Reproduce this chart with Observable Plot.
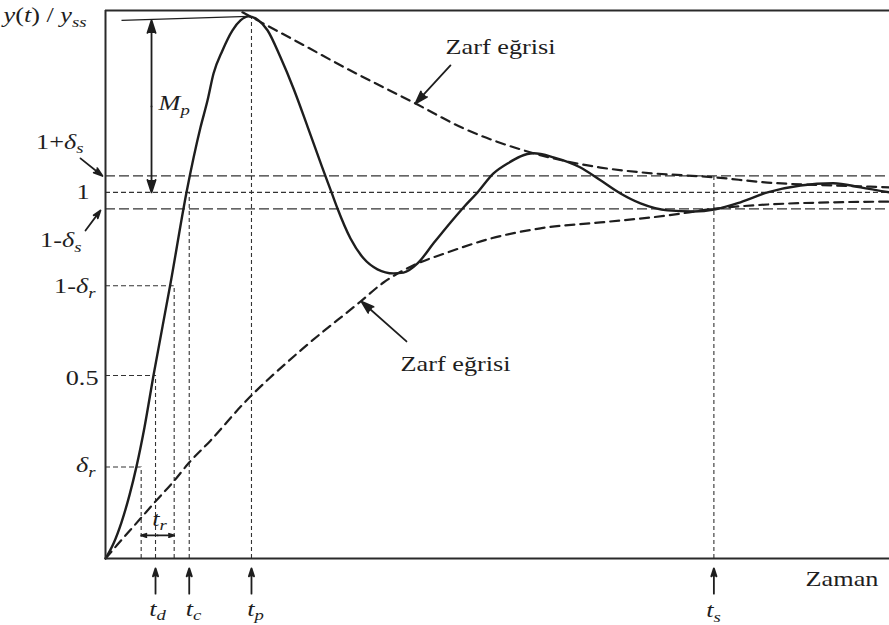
<!DOCTYPE html>
<html>
<head>
<meta charset="utf-8">
<script src="https://cdn.jsdelivr.net/npm/d3@7"></script>
<script src="https://cdn.jsdelivr.net/npm/@observablehq/plot@0.6"></script>
<style>
  body { margin: 0; background: #fff; }
  #chart svg { display: block; }
</style>
</head>
<body>
<div id="chart"></div>
<script>
// Normalised step response y(t)/y_ss of an underdamped second-order system
const respT = [0, 0.102, 0.204, 0.306, 0.395, 0.497, 0.612, 0.829, 1.033, 1.212, 1.301, 1.378,
  1.492, 1.620, 1.722, 1.824, 1.952, 2.066, 2.232, 2.398, 2.577, 2.755, 2.883, 2.959, 3.125, 3.291,
  3.469, 3.673, 3.801, 3.980, 4.184, 4.401, 4.566, 4.745, 4.949, 5.128, 5.459, 5.714, 6.059, 6.314,
  6.569, 6.824, 7.168, 7.500, 7.781, 8.099, 8.444, 8.865, 9.286, 9.630, 10.0];
const respY = [0, 0.041, 0.099, 0.173, 0.251, 0.358, 0.500, 0.751, 1.000, 1.178, 1.251, 1.325,
  1.388, 1.443, 1.470, 1.481, 1.470, 1.443, 1.369, 1.284, 1.180, 1.074, 1.000, 0.956, 0.874, 0.820,
  0.790, 0.779, 0.781, 0.806, 0.861, 0.918, 0.959, 1.000, 1.052, 1.079, 1.107, 1.096, 1.068, 1.033,
  0.997, 0.970, 0.951, 0.948, 0.954, 0.973, 1.000, 1.019, 1.025, 1.014, 1.000];

// Upper and lower envelope curves ("Zarf eğrisi")
const upperT = [1.747, 2.487, 3.125, 3.546, 3.980, 4.566, 5.332, 6.314, 6.824, 7.781, 8.444, 9.286, 10.0];
const upperY = [1.492, 1.407, 1.333, 1.287, 1.240, 1.175, 1.115, 1.068, 1.055, 1.041, 1.027, 1.019, 1.014];
const lowerT = [0, 0.153, 0.446, 0.638, 0.867, 1.059, 1.339, 1.760, 2.487, 3.253, 3.546, 3.929, 4.362,
  4.911, 5.548, 6.314, 7.168, 7.781, 8.444, 9.286, 10.0];
const lowerY = [0, 0.038, 0.109, 0.156, 0.210, 0.260, 0.322, 0.423, 0.568, 0.702, 0.754, 0.801, 0.836,
  0.874, 0.902, 0.918, 0.937, 0.956, 0.967, 0.973, 0.975];

// Reference levels
const bandLevels = [1.045, 0.955];          // 1+δs, 1-δs
const finalLevel = [1];
const riseLevels = [0.25, 0.5, 0.745];      // δr, 0.5, 1-δr
const riseTimes = [0.455, 0.638, 0.876];    // crossings of the rise levels

// Characteristic times
const markerNames = ["t_d", "t_c", "t_p", "t_s"];
const markerTimes = [0.638, 1.068, 1.862, 7.76];
const markerTops = [0.5, 1.0, 1.478, 1.045];
const peakValue = 1.481;

// Level labels on the vertical axis
const levelNames = ["1+δ_s", "1", "1-δ_s", "1-δ_r", "0.5", "δ_r"];

const response = respT.map((t, i) => ({t, y: respY[i]}));
const upper = upperT.map((t, i) => ({t, y: upperY[i]}));
const lower = lowerT.map((t, i) => ({t, y: lowerY[i]}));
const rise = riseLevels.map((y, i) => ({y, t: riseTimes[i]}));
const markers = markerNames.map((name, i) => ({name, t: markerTimes[i], top: markerTops[i]}));

const yTop = 1.497;
const ink = "#1e1e1e";
const serif = "Liberation Serif, Times New Roman, serif";

// Label placement (time units / normalised output units)
const levelLayout = [
  {x: -0.281, y: 1.120}, {x: -0.204, y: 0.981}, {x: -0.306, y: 0.851},
  {x: -0.128, y: 0.724}, {x: -0.089, y: 0.473}, {x: -0.128, y: 0.235}
];
const levelText = levelNames.map((text, i) => ({text, ...levelLayout[i]}));
const markerOffsets = [0.025, 0.054, 0.051, -0.005];
const markerText = markers.map((m, i) => ({text: m.name, x: m.t + markerOffsets[i], y: m.name === "t_s" ? -0.161 : -0.156}));
const mathStart = [{text: "y(t) / y_ss", x: -1.301, y: 1.4645}, {text: "M_p", x: 0.676, y: 1.224}];
const mathMiddle = [...markerText, {text: "t_r", x: 0.689, y: 0.090}];
const captions = [
  {text: "Zarf eğrisi", x: 4.337, y: 1.377},
  {text: "Zarf eğrisi", x: 3.763, y: 0.511},
  {text: "Zaman", x: 8.929, y: -0.074}
];

// Arrows
const mpX = 0.587, mpMid = (finalLevel[0] + 1.470) / 2;
const trY = 0.063, trMid = (riseTimes[0] + riseTimes[2]) / 2;
const pointers = [
  {x1: mpX, y1: mpMid, x2: mpX, y2: 1.470},
  {x1: mpX, y1: mpMid, x2: mpX, y2: finalLevel[0]},
  {x1: trMid, y1: trY, x2: riseTimes[0], y2: trY},
  {x1: trMid, y1: trY, x2: riseTimes[2], y2: trY},
  {x1: -0.319, y1: 1.093, x2: -0.038, y2: bandLevels[0]},
  {x1: -0.255, y1: 0.896, x2: -0.064, y2: bandLevels[1] - 0.004},
  {x1: 4.40, y1: 1.347, x2: 3.954, y2: 1.243},
  {x1: 3.839, y1: 0.593, x2: 3.265, y2: 0.702},
  ...markers.map(m => ({x1: m.t, y1: -0.096, x2: m.t, y2: -0.027}))
];

const textCommon = {text: "text", x: "x", y: "y", lineAnchor: "bottom", fill: ink, fontSize: 21, fontFamily: serif};

const chart = Plot.plot({
  width: 889,
  height: 625,
  marginLeft: 105,
  marginRight: 0,
  marginTop: 10,
  marginBottom: 67,
  x: {domain: [0, 10], axis: null},
  y: {domain: [0, yTop], axis: null},
  style: {background: "#fff", fontFamily: serif, fontSize: "21px", overflow: "visible"},
  marks: [
    // settling band and final value
    Plot.ruleY(bandLevels, {stroke: "#333", strokeWidth: 1.2, strokeDasharray: "10,4"}),
    Plot.ruleY(finalLevel, {stroke: "#333", strokeWidth: 1.2, strokeDasharray: "5,3"}),
    // rise levels and their crossing times
    Plot.ruleY(rise, {y: "y", x1: 0, x2: "t", stroke: "#333", strokeWidth: 1.1, strokeDasharray: "5,3"}),
    Plot.ruleX(rise, {x: "t", y1: 0, y2: "y", stroke: "#333", strokeWidth: 1.1, strokeDasharray: "4,3"}),
    Plot.ruleX(markers.slice(1), {x: "t", y1: 0, y2: "top", stroke: "#333", strokeWidth: 1.1, strokeDasharray: "4,3"}),
    // envelopes
    Plot.line(upper, {x: "t", y: "y", curve: "monotone-x", stroke: ink, strokeWidth: 2.2, strokeDasharray: "9,6"}),
    Plot.line(lower, {x: "t", y: "y", curve: "monotone-x", stroke: ink, strokeWidth: 2.2, strokeDasharray: "9,6"}),
    // response
    Plot.line(response, {x: "t", y: "y", curve: "monotone-x", stroke: ink, strokeWidth: 2.4}),
    // overshoot reference line
    Plot.link([{x1: 0.204, y1: 1.470, x2: 1.824, y2: peakValue}], {x1: "x1", y1: "y1", x2: "x2", y2: "y2", stroke: ink, strokeWidth: 1.2}),
    // frame: left, top and time axis
    Plot.ruleX([0], {stroke: "#2a2a2a", strokeWidth: 2}),
    Plot.ruleY([0, yTop], {stroke: "#2a2a2a", strokeWidth: 2}),
    // arrows with solid heads
    Plot.arrow(pointers, {x1: "x1", y1: "y1", x2: "x2", y2: "y2", stroke: ink, fill: ink, strokeWidth: 1.8, headLength: 11, headAngle: 36}),
    // labels
    Plot.text(mathStart, {...textCommon, textAnchor: "start"}),
    Plot.text(levelText, {...textCommon, textAnchor: "end"}),
    Plot.text(mathMiddle, {...textCommon, textAnchor: "middle"}),
    Plot.text(captions, {...textCommon, textAnchor: "start"})
  ]
});

// Typeset math labels: italic symbols and lowered subscripts
const NS = "http://www.w3.org/2000/svg";
const SUB_SHIFT = 4.6, SUB_SIZE = "15px", STRETCH = 1.25;
const plainText = new Set(captions.map(d => d.text));
function typeset(el) {
  const s = el.textContent;
  const runs = [];
  for (let i = 0; i < s.length; i++) {
    const ch = s[i];
    if (ch === "_") {
      let j = i + 1, sub = "";
      while (j < s.length && /[A-Za-z]/.test(s[j])) sub += s[j++];
      runs.push({text: sub, italic: true, sub: true});
      i = j - 1;
      continue;
    }
    const italic = /[A-Za-zδ]/.test(ch);
    const last = runs[runs.length - 1];
    if (last && !last.sub && last.italic === italic) last.text += ch;
    else runs.push({text: ch, italic, sub: false});
  }
  el.textContent = "";
  let lowered = false;
  for (const r of runs) {
    const ts = document.createElementNS(NS, "tspan");
    ts.textContent = r.text;
    if (r.italic) ts.setAttribute("font-style", "italic");
    if (r.sub) ts.setAttribute("font-size", SUB_SIZE);
    if (r.sub && !lowered) { ts.setAttribute("dy", SUB_SHIFT); lowered = true; }
    else if (!r.sub && lowered) { ts.setAttribute("dy", -SUB_SHIFT); lowered = false; }
    el.appendChild(ts);
  }
}

chart.querySelectorAll("text").forEach(el => {
  if (!plainText.has(el.textContent)) typeset(el);
  // the typeface is set slightly wide
  let tr = el.getAttribute("transform") || "";
  if (el.hasAttribute("x") || el.hasAttribute("y")) {
    const x = parseFloat(el.getAttribute("x")) || 0, y = parseFloat(el.getAttribute("y")) || 0;
    el.removeAttribute("x"); el.removeAttribute("y");
    tr += ` translate(${x},${y})`;
  }
  el.setAttribute("transform", `${tr} scale(${STRETCH},1)`);
});

document.getElementById("chart").appendChild(chart);
</script>
</body>
</html>
